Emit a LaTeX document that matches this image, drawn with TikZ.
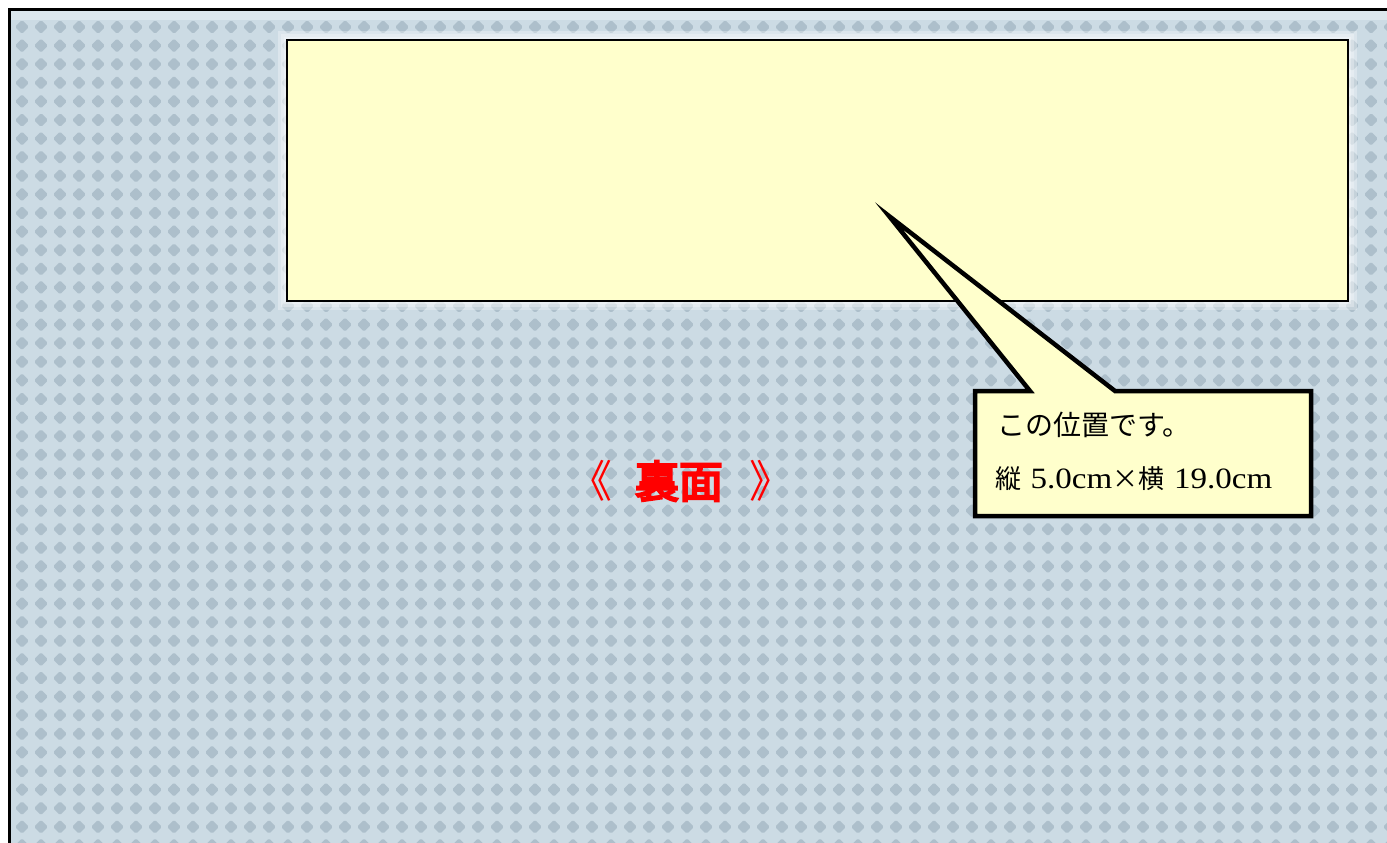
\documentclass[tikz,border=0pt]{standalone}
\usepackage{fontspec}
\setmainfont{Liberation Serif}[FakeStretch=1.12]
\newfontfamily\cjk{Noto Sans CJK JP}
\newfontfamily\cjkheavy{Noto Sans CJK JP}[FakeBold=5]
\usepackage{xcolor}
\usetikzlibrary{calc}
\definecolor{paper}{HTML}{CCDBE4}
\definecolor{dotc}{HTML}{ADBFCB}
\definecolor{note}{HTML}{FFFFCC}
\definecolor{redtxt}{HTML}{FF0000}
\tikzset{
  frame/.style={draw=black, line width=3pt},
  zone/.style={fill=note, draw=black, line width=1.5pt},
  glow/.style={fill=white, opacity=0.3},
  callbox/.style={fill=note, draw=black, line width=4.5pt, line join=miter},
  lbl/.style={text=black, inner sep=0pt, anchor=west, font=\fontsize{28}{32}\selectfont},
  title/.style={text=redtxt, inner sep=0pt, font=\fontsize{44}{48}\selectfont}
}
\begin{document}
\begin{tikzpicture}[x=1pt, y=-1pt]
  \useasboundingbox (0,0) rectangle (1387,843);
  \fill[white] (0,0) rectangle (1387,843);

  % patterned back
  \fill[paper] (10,10) rectangle (1387,843);
  \foreach \i in {0,...,72} {
    \fill[dotc, rounded corners=1.5pt] \foreach \j in {0,...,44} {
      ({22+19*\i},{27+18.6*\j}) +(-7,0) -- +(0,-7) -- +(7,0) -- +(0,7) -- cycle };
  }
  \fill[white, opacity=0.35] (10,10) rectangle (1387,20);
  \draw[frame] (9.5,843) -- (9.5,9.5) -- (1387,9.5);

  % printing zone
  \coordinate (ZA) at (287,40);
  \coordinate (ZB) at (1348,301);
  \foreach \g in {9,6,3} { \fill[glow] ($(ZA)+(-\g,-\g)$) rectangle ($(ZB)+(\g,\g)$); }
  \draw[zone] (ZA) rectangle (ZB);

  % callout
  \coordinate (CA) at (975,391);
  \coordinate (CB) at (1311,516);
  \coordinate (tip) at (889,216);
  \coordinate (baseL) at (1030,391);
  \coordinate (baseR) at (1115,391);
  \draw[callbox] (CA) -- (baseL) -- (tip) -- (baseR) -- (CB |- CA) -- (CB) -- (CA |- CB) -- cycle;
  \node[lbl] (pos) at (997,425) {\cjk この位置です。};
  \node[lbl] (size) at (995,479) {{\fontsize{26}{30}\selectfont\cjk 縦}\,\,\fontsize{29.5}{32}\selectfont 5.0cm{\fontsize{26}{30}\selectfont\cjk ×横}\,\,19.0cm};

  \node[title] (lq) at (590,481) {\cjk 《};
  \node[title] (back) at (679,481) {\cjkheavy 裏面};
  \node[title] (rq) at (771,481) {\cjk 》};
\end{tikzpicture}
\end{document}
